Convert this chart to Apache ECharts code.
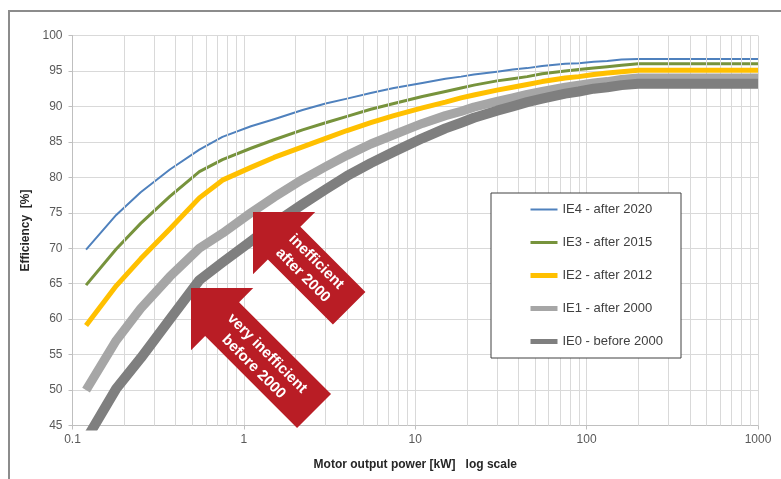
<!DOCTYPE html>
<html>
<head>
<meta charset="utf-8">
<script src="https://cdn.jsdelivr.net/npm/echarts@6/dist/echarts.min.js"></script>
<style>
  html, body { margin: 0; padding: 0; background: #fff; }
  #chart { width: 781px; height: 479px; }
</style>
</head>
<body>
<div id="chart"></div>
<script>
// motor rated power [kW]
var power = [0.12, 0.18, 0.25, 0.37, 0.55, 0.75, 1.1, 1.5, 2.2, 3, 4, 5.5, 7.5, 11, 15, 18.5, 22, 30, 37, 45, 55, 75, 90, 110, 132, 160, 200, 1000];
// efficiency classes [%]
var ie4 = [69.8, 74.7, 77.9, 81.1, 83.9, 85.7, 87.2, 88.2, 89.5, 90.4, 91.1, 91.9, 92.6, 93.3, 93.9, 94.2, 94.5, 94.9, 95.2, 95.4, 95.7, 96.0, 96.1, 96.3, 96.4, 96.6, 96.7, 96.7];
var ie3 = [64.8, 69.9, 73.5, 77.3, 80.8, 82.5, 84.1, 85.3, 86.7, 87.7, 88.6, 89.6, 90.4, 91.4, 92.1, 92.6, 93.0, 93.6, 93.9, 94.2, 94.6, 95.0, 95.2, 95.4, 95.6, 95.8, 96.0, 96.0];
var ie2 = [59.1, 64.7, 68.5, 72.7, 77.1, 79.6, 81.4, 82.8, 84.3, 85.5, 86.6, 87.7, 88.7, 89.8, 90.6, 91.2, 91.6, 92.3, 92.7, 93.1, 93.5, 94.0, 94.2, 94.5, 94.7, 94.9, 95.1, 95.1];
var ie1 = [50.0, 57.0, 61.5, 66.0, 70.0, 72.1, 75.0, 77.2, 79.7, 81.5, 83.1, 84.7, 86.0, 87.6, 88.7, 89.3, 89.9, 90.7, 91.2, 91.7, 92.1, 92.7, 93.0, 93.3, 93.5, 93.8, 94.0, 94.0];
var ie0 = [43.0, 50.2, 54.5, 60.0, 65.5, 68.0, 71.0, 73.5, 76.2, 78.3, 80.2, 82.0, 83.6, 85.5, 86.9, 87.7, 88.4, 89.4, 90.0, 90.6, 91.1, 91.8, 92.1, 92.5, 92.7, 93.0, 93.2, 93.2];

var names = ['IE4 - after 2020', 'IE3 - after 2015', 'IE2 - after 2012', 'IE1 - after 2000', 'IE0 - before 2000'];
var colors = ['#4f81bd', '#77933c', '#ffc000', '#a6a6a6', '#7f7f7f'];
var widths = [2, 3, 5, 9, 10];
var legendWidths = [2, 3, 5, 5, 5];
var values = [ie4, ie3, ie2, ie1, ie0];

// minor vertical grid lines 2..9 in each decade
var minorX = [];
[0.1, 1, 10, 100].forEach(function (d) {
  for (var k = 2; k <= 9; k++) minorX.push(+(d * k).toPrecision(3));
});

function pairs(ys) {
  return power.map(function (p, i) { return [p, ys[i]]; });
}

var series = values.map(function (v, i) {
  return {
    name: names[i],
    type: 'line',
    symbol: 'none',
    smooth: false,
    lineStyle: { color: colors[i], width: widths[i], cap: 'butt', join: 'round' },
    itemStyle: { color: colors[i] },
    data: pairs(v),
    z: 3 + i
  };
});
// minor grid as silent markLines
series[0].markLine = {
  silent: true,
  symbol: 'none',
  label: { show: false },
  lineStyle: { color: '#d9d9d9', width: 1, type: 'solid' },
  animation: false,
  data: minorX.map(function (x) { return { xAxis: x }; })
};

// arrow polygon pointing down-right from tip, 45 deg
function arrow(tx, ty, H, w, L) {
  var loc = [[0, 0], [H, -H], [H, -w], [L, -w], [L, w], [H, w], [H, H]];
  var c = Math.SQRT1_2;
  return loc.map(function (p) {
    return [tx + (p[0] - p[1]) * c, ty + (p[0] + p[1]) * c];
  });
}
function along(tx, ty, a, b) {
  var c = Math.SQRT1_2;
  return [tx + (a - b) * c, ty + (a + b) * c];
}
var red = '#b91d25';
var t1 = along(253, 212, 80, 0);
var t2 = along(191, 288, 100, 2);

var chart = echarts.init(document.getElementById('chart'));
chart.setOption({
  animation: false,
  backgroundColor: '#fff',
  grid: { left: 72.5, top: 35.5, width: 685.5, height: 390 },
  xAxis: {
    type: 'log',
    logBase: 10,
    min: 0.1,
    max: 1000,
    name: 'Motor output power [kW]   log scale',
    nameLocation: 'middle',
    nameGap: 33,
    nameTextStyle: { fontFamily: 'Liberation Sans', fontWeight: 'bold', fontSize: 12, color: '#262626' },
    axisLine: { lineStyle: { color: '#bfbfbf', width: 1 } },
    axisTick: { show: true, length: 4, lineStyle: { color: '#bfbfbf' } },
    axisLabel: {
      margin: 8, fontFamily: 'Liberation Sans', fontSize: 12, color: '#595959',
      formatter: function (v) { return String(+v.toPrecision(3)); }
    },
    splitLine: { show: true, lineStyle: { color: '#d9d9d9', width: 1 } }
  },
  yAxis: {
    type: 'value',
    min: 45,
    max: 100,
    interval: 5,
    name: 'Efficiency  [%]',
    nameLocation: 'middle',
    nameGap: 30,
    nameTextStyle: { fontFamily: 'Liberation Sans', fontWeight: 'bold', fontSize: 12, color: '#262626' },
    axisLine: { show: true, lineStyle: { color: '#bfbfbf', width: 1 } },
    axisTick: { show: true, length: 4, lineStyle: { color: '#bfbfbf' } },
    axisLabel: { margin: 10, fontFamily: 'Liberation Sans', fontSize: 12, color: '#595959' },
    splitLine: { show: true, lineStyle: { color: '#d9d9d9', width: 1 } }
  },
  legend: {
    orient: 'vertical',
    left: 528,
    top: 203,
    padding: 0,
    itemGap: 20,
    itemWidth: 27,
    itemHeight: 12,
    textStyle: { fontFamily: 'Liberation Sans', fontSize: 13, color: '#404040' },
    data: names.map(function (n, i) {
      return { name: n, itemStyle: { opacity: 0 }, lineStyle: { width: legendWidths[i] } };
    }),
    z: 10
  },
  graphic: [
    {
      type: 'rect',
      shape: { x: 9, y: 11, width: 800, height: 500 },
      style: { fill: 'none', stroke: '#8c8c8c', lineWidth: 2 },
      silent: true, z: 0
    },
    {
      type: 'rect',
      shape: { x: 491, y: 193, width: 190, height: 165 },
      style: { fill: '#fff', stroke: '#404040', lineWidth: 1 },
      silent: true, z: 9
    },
    {
      type: 'polygon',
      shape: { points: arrow(253, 212, 44, 23, 136) },
      style: { fill: red },
      z: 20
    },
    {
      type: 'text',
      x: t1[0], y: t1[1],
      rotation: -Math.PI / 4,
      style: {
        text: 'inefficient\nafter 2000',
        fill: '#fff', font: 'bold 15px "Liberation Sans"',
        align: 'center', verticalAlign: 'middle', lineHeight: 19
      },
      z: 21
    },
    {
      type: 'polygon',
      shape: { points: arrow(191, 288, 44, 24, 174) },
      style: { fill: red },
      z: 20
    },
    {
      type: 'text',
      x: t2[0], y: t2[1],
      rotation: -Math.PI / 4,
      style: {
        text: 'very inefficient\nbefore 2000',
        fill: '#fff', font: 'bold 15px "Liberation Sans"',
        align: 'center', verticalAlign: 'middle', lineHeight: 19
      },
      z: 21
    }
  ],
  series: series
});
window.onresize = function () { chart.resize(); };
</script>
</body>
</html>
